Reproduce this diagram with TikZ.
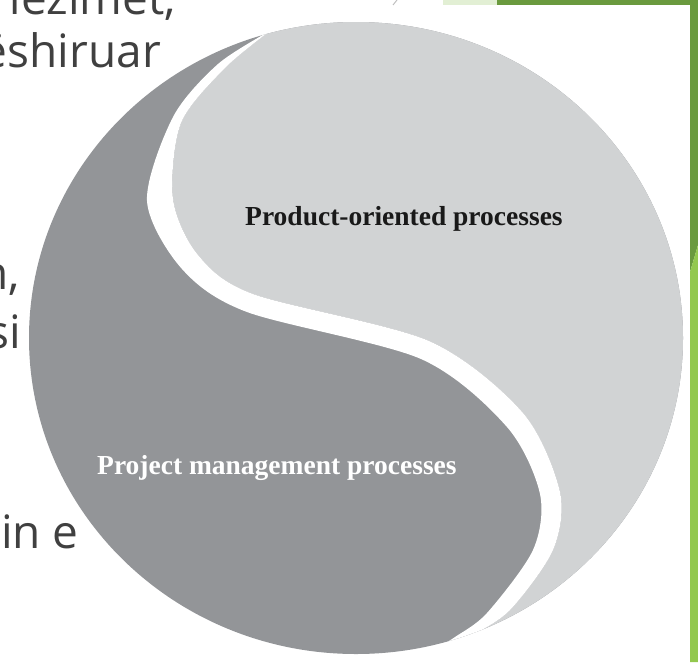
\documentclass[tikz,border=0pt]{standalone}
\usepackage{fontspec}
\setmainfont{Liberation Serif}
\newfontfamily\slidefont{Open Sans}
\usepackage{tikz}
\definecolor{yinGray}{HTML}{939598}
\definecolor{yangGray}{HTML}{D1D3D4}
\definecolor{slideGreen}{HTML}{6A9A3E}
\definecolor{limeGreen}{HTML}{93C84E}
\definecolor{paleGreen}{HTML}{E2EFD4}
\definecolor{slideText}{HTML}{404040}
\tikzset{
slideline/.style={font=\slidefont\fontsize{46}{52}\selectfont, text=slideText, anchor=base east, inner sep=0pt},
label/.style={font=\bfseries\fontsize{27.5}{33}\selectfont, anchor=base west, inner sep=0pt}
}
\begin{document}
\begin{tikzpicture}[x=1pt,y=-1pt]
\clip (0,0) rectangle (698,662);
\fill[white] (0,0) rectangle (698,662);
% slide text behind the figure
\node[slideline] (t1) at (176,14) {nezimet,}; \node[slideline] (t2) at (161,67) {ëshiruar};
\node[slideline] (t3) at (20,289) {n,}; \node[slideline] (t4) at (21,348) {si}; \node[slideline] (t5) at (79,548) {in e};
% slide frame
\draw[gray!50, line width=1pt] (397,0) -- (393,5);
\fill[paleGreen] (443,0) rectangle (497,5);
\fill[slideGreen] (497,0) rectangle (698,5);
\fill[slideGreen] (690,0) -- (698,0) -- (698,245) -- (690,272) -- cycle;
\fill[limeGreen] (690,272) -- (698,245) -- (698,662) -- (690,662) -- cycle;
% yin and yang
\begin{scope}
\clip (356,338) ellipse [x radius=327, y radius=316];
\fill[yinGray] (0,0) rectangle (698,662);
\fill[yangGray] plot[smooth] coordinates {(270,31) (225,68) (181,123) (173,199) (198,255) (253,294) (429,341) (523,413) (560,492) (553,550) (510,610) (470,636) (440,646)} -- (700,700) -- (700,-20) -- (270,-20) -- cycle;
\fill[white] plot[smooth] coordinates {(270,31) (225,68) (181,123) (173,199) (198,255) (253,294) (429,341) (523,413) (560,492) (553,550) (510,610) (470,636) (440,646)}
  -- plot[smooth] coordinates {(440,646) (455,637) (487,613) (533,550) (540,494) (507,427) (421,359) (247,312) (182,269) (147,201) (173,117) (218,64) (270,31)} -- cycle;
\end{scope}
\node[label, text=black!90] (prod) at (245,225) {Product-oriented processes};
\node[label, text=white] (proj) at (97,474) {Project management processes};
\end{tikzpicture}
\end{document}
